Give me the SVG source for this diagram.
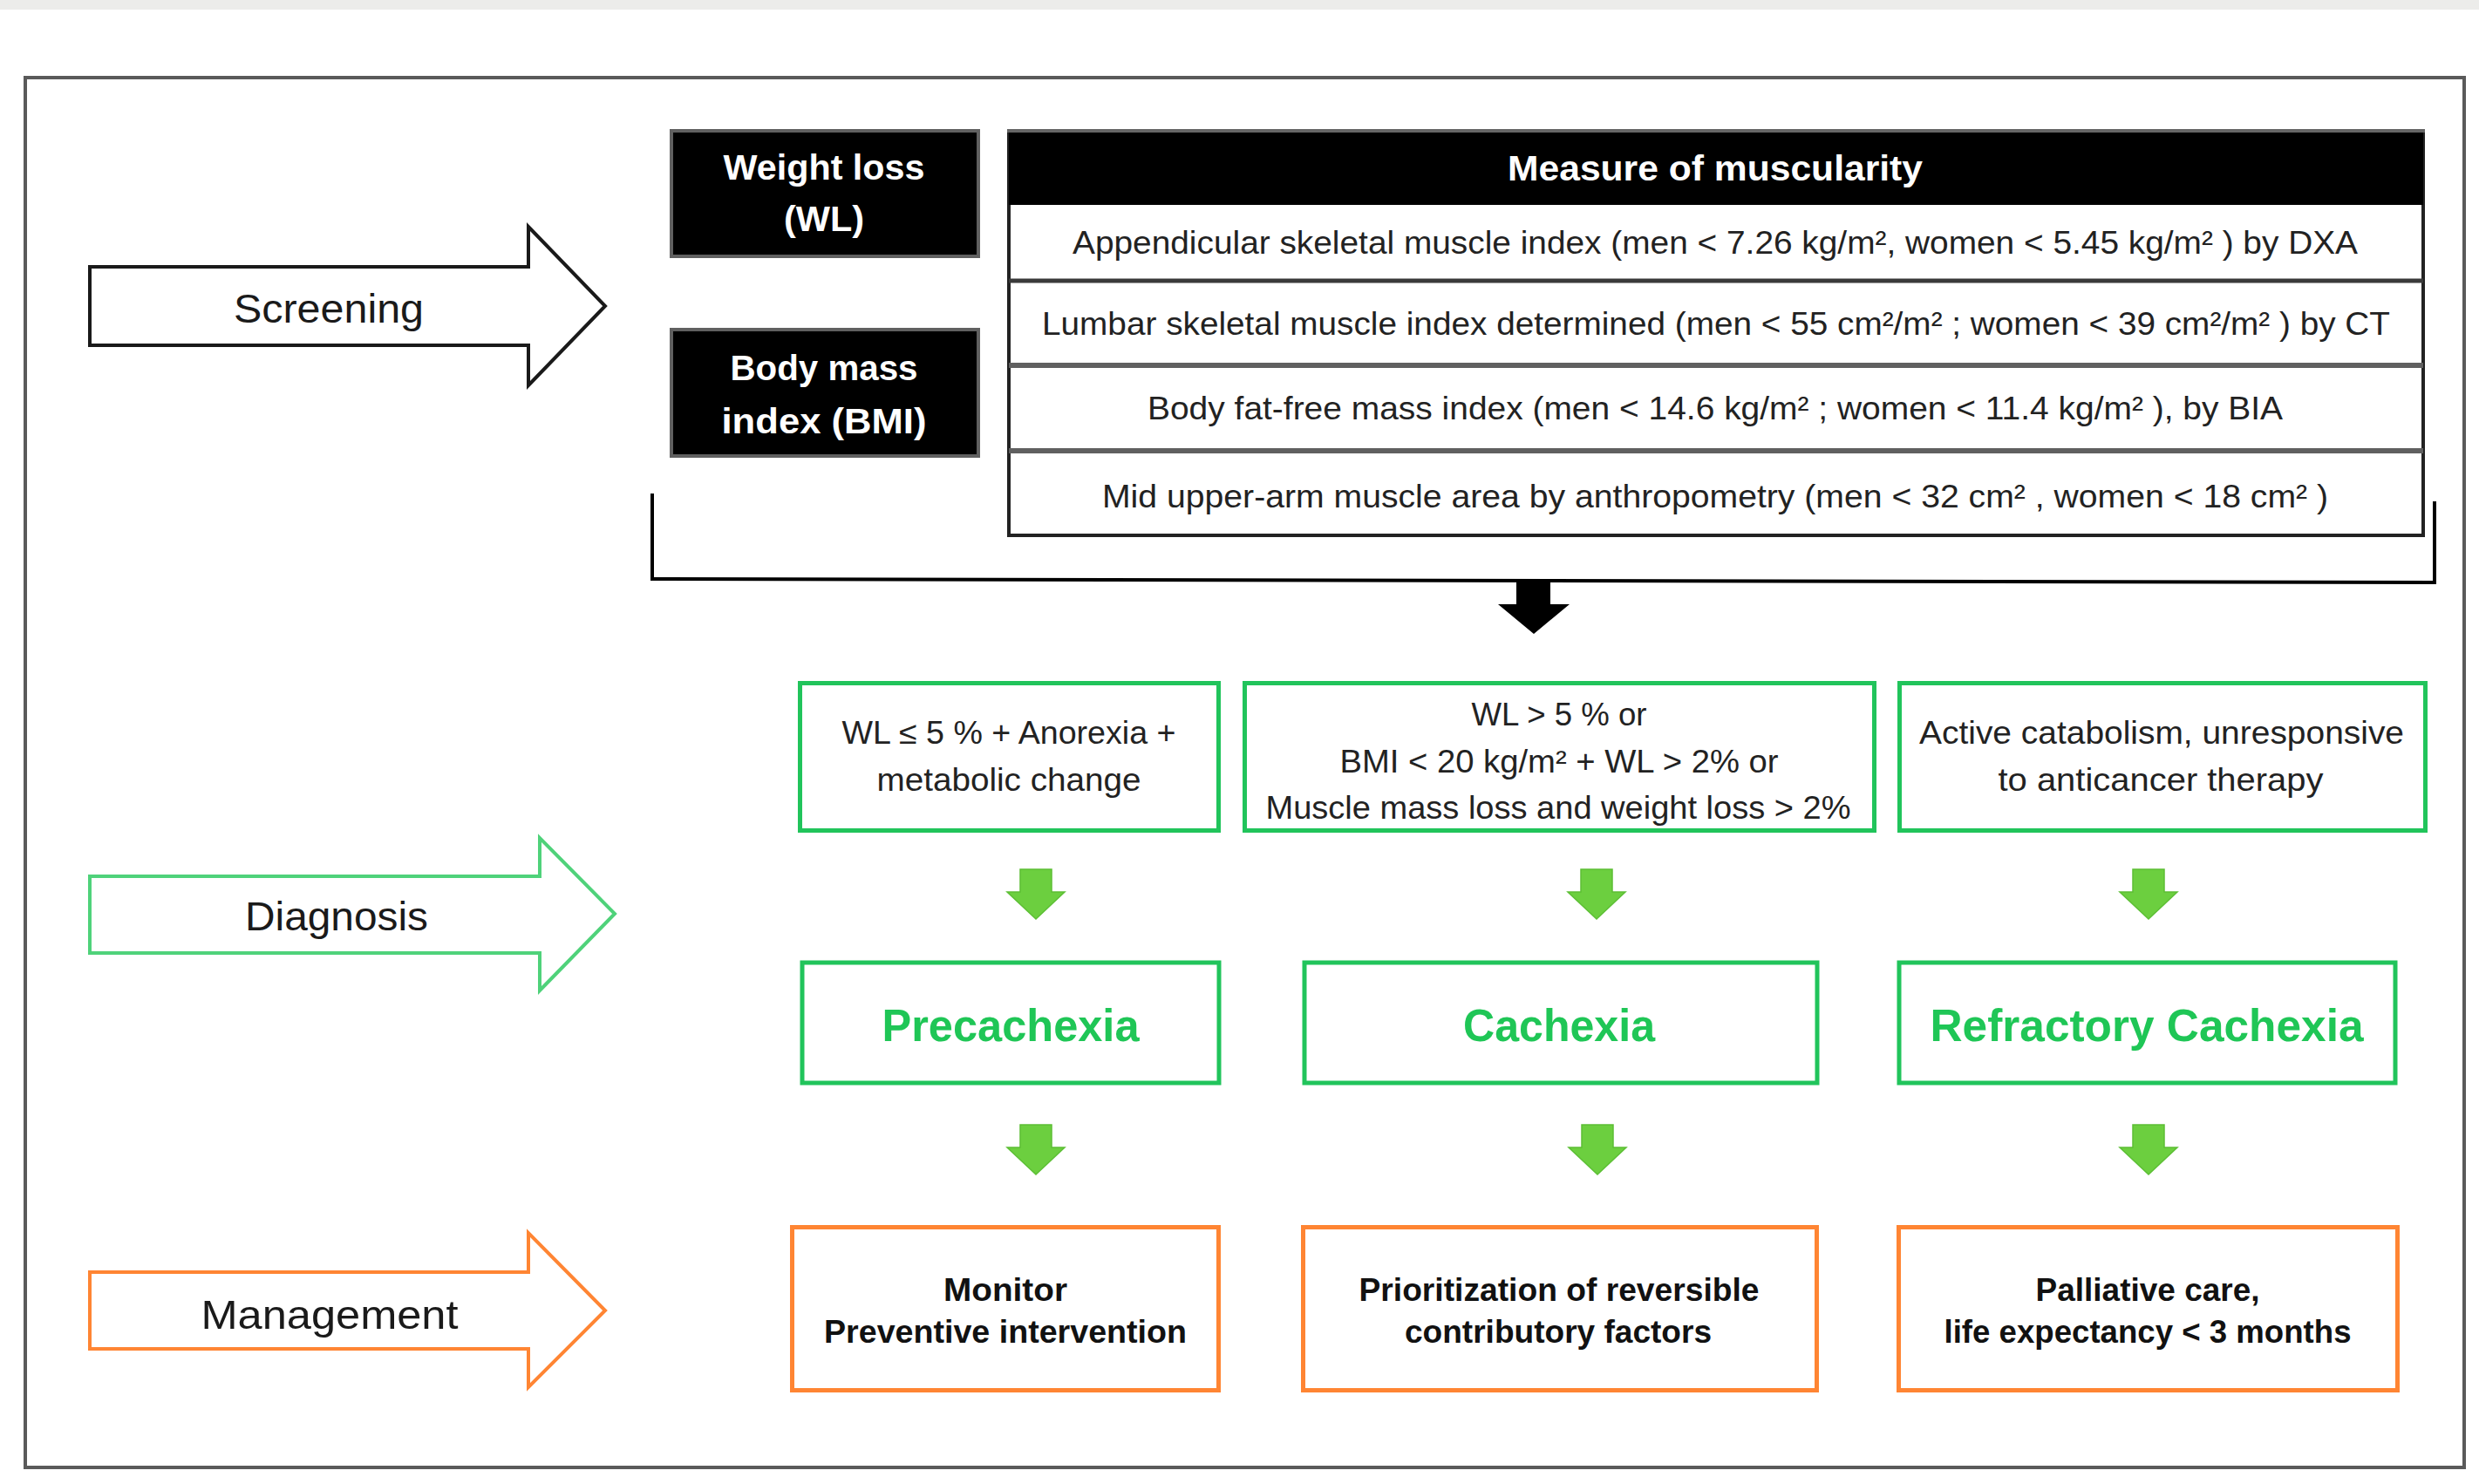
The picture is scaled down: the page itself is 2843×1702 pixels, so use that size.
<svg xmlns="http://www.w3.org/2000/svg" width="2843" height="1702" viewBox="0 0 2843 1702">
  <style>
    text { font-family: "Liberation Sans", Arial, sans-serif; text-anchor: middle; }
    .phase { font-size: 47px; fill: #1a1a1a; }
    .wb { font-size: 40px; font-weight: bold; fill: #ffffff; }
    .row { font-size: 37px; fill: #222222; }
    .crit { font-size: 36px; fill: #222222; }
    .stage { font-size: 52px; font-weight: bold; fill: #1fc656; }
    .mgmt { font-size: 36px; font-weight: bold; fill: #111111; }
    .gbox { fill: #ffffff; stroke: #21c45b; stroke-width: 5; }
    .obox { fill: #ffffff; stroke: #ff8533; stroke-width: 5; }
    .blk { fill: #000000; stroke: #606060; stroke-width: 4; }
    .garrow { fill: #6ccf3f; stroke: #5cbf34; stroke-width: 1.5; }
  </style>
  <defs>
    <path id="garr" d="M -18 0 L 18 0 L 18 26 L 33 26 L 0 57 L -33 26 L -18 26 Z"/>
  </defs>

  <rect x="0" y="0" width="2843" height="1702" fill="#ffffff"/>
  <rect x="0" y="0" width="2843" height="11" fill="#ececea"/>
  <rect id="frame" x="29" y="89" width="2797" height="1594" fill="#ffffff" stroke="#5a5a5a" stroke-width="4"/>

  <!-- Phase arrows -->
  <g id="screening">
    <polygon points="103,306 606,306 606,260 694,351 606,442 606,396 103,396" fill="#ffffff" stroke="#1a1a1a" stroke-width="4"/>
    <text class="phase" x="377" y="370" textLength="218" lengthAdjust="spacingAndGlyphs">Screening</text>
  </g>
  <g id="diagnosis">
    <polygon points="103,1005 619,1005 619,961 705,1048 619,1136 619,1093 103,1093" fill="#ffffff" stroke="#4fd27a" stroke-width="4"/>
    <text class="phase" x="386" y="1067" textLength="210" lengthAdjust="spacingAndGlyphs">Diagnosis</text>
  </g>
  <g id="management">
    <polygon points="103,1459 606,1459 606,1414 694,1503 606,1591 606,1547 103,1547" fill="#ffffff" stroke="#ff8533" stroke-width="4"/>
    <text class="phase" x="378" y="1524" textLength="295" lengthAdjust="spacingAndGlyphs">Management</text>
  </g>

  <!-- Screening criteria -->
  <g id="wl">
    <rect class="blk" x="770" y="150" width="352" height="144"/>
    <text class="wb" x="945" y="206" textLength="231" lengthAdjust="spacingAndGlyphs">Weight loss</text>
    <text class="wb" x="945" y="265" textLength="92" lengthAdjust="spacingAndGlyphs">(WL)</text>
  </g>
  <g id="bmi">
    <rect class="blk" x="770" y="378" width="352" height="145"/>
    <text class="wb" x="945" y="436" textLength="215" lengthAdjust="spacingAndGlyphs">Body mass</text>
    <text class="wb" x="945" y="497" textLength="235" lengthAdjust="spacingAndGlyphs">index (BMI)</text>
  </g>
  <g id="muscularity">
    <rect x="1157" y="151" width="1622" height="463" fill="#ffffff" stroke="#222222" stroke-width="4"/>
    <rect x="1157" y="151" width="1622" height="84" fill="#000000"/>
    <line x1="1155" y1="150" x2="2781" y2="150" stroke="#666666" stroke-width="4"/>
    <line x1="1157" y1="322" x2="2779" y2="322" stroke="#3a3a3a" stroke-width="5"/>
    <line x1="1157" y1="419" x2="2779" y2="419" stroke="#606060" stroke-width="6"/>
    <line x1="1157" y1="517" x2="2779" y2="517" stroke="#606060" stroke-width="6"/>
    <text class="wb" x="1967" y="207" textLength="476" lengthAdjust="spacingAndGlyphs">Measure of muscularity</text>
    <text class="row" x="1967" y="291" textLength="1474" lengthAdjust="spacingAndGlyphs">Appendicular skeletal muscle index (men &lt; 7.26 kg/m², women &lt; 5.45 kg/m² ) by DXA</text>
    <text class="row" x="1968" y="384" textLength="1546" lengthAdjust="spacingAndGlyphs">Lumbar skeletal muscle index determined (men &lt; 55 cm²/m² ; women &lt; 39 cm²/m² ) by CT</text>
    <text class="row" x="1967" y="481" textLength="1302" lengthAdjust="spacingAndGlyphs">Body fat-free mass index (men &lt; 14.6 kg/m² ; women &lt; 11.4 kg/m² ), by BIA</text>
    <text class="row" x="1967" y="582" textLength="1406" lengthAdjust="spacingAndGlyphs">Mid upper-arm muscle area by anthropometry (men &lt; 32 cm² , women &lt; 18 cm² )</text>
  </g>

  <!-- Diagnosis criteria -->
  <g id="crit1">
    <rect class="gbox" x="917.5" y="783.5" width="480" height="169"/>
    <text class="crit" x="1157" y="853" textLength="383" lengthAdjust="spacingAndGlyphs">WL ≤ 5 % + Anorexia +</text>
    <text class="crit" x="1157" y="907" textLength="303" lengthAdjust="spacingAndGlyphs">metabolic change</text>
  </g>
  <g id="crit2">
    <rect class="gbox" x="1427.5" y="783.5" width="722" height="169"/>
    <text class="crit" x="1788" y="832" textLength="201" lengthAdjust="spacingAndGlyphs">WL &gt; 5 % or</text>
    <text class="crit" x="1788" y="886" textLength="503" lengthAdjust="spacingAndGlyphs">BMI &lt; 20 kg/m² + WL &gt; 2% or</text>
    <text class="crit" x="1787" y="939" textLength="671" lengthAdjust="spacingAndGlyphs">Muscle mass loss and weight loss &gt; 2%</text>
  </g>
  <g id="crit3">
    <rect class="gbox" x="2178.5" y="783.5" width="603" height="169"/>
    <text class="crit" x="2479" y="853" textLength="556" lengthAdjust="spacingAndGlyphs">Active catabolism, unresponsive</text>
    <text class="crit" x="2478" y="907" textLength="373" lengthAdjust="spacingAndGlyphs">to anticancer therapy</text>
  </g>

  <!-- Stages -->
  <g id="precachexia">
    <rect class="gbox" x="920" y="1104" width="478" height="138" stroke-width="4.5"/>
    <text class="stage" x="1159" y="1194" textLength="295" lengthAdjust="spacingAndGlyphs">Precachexia</text>
  </g>
  <g id="cachexia">
    <rect class="gbox" x="1496" y="1104" width="588" height="138" stroke-width="4.5"/>
    <text class="stage" x="1788" y="1194" textLength="220" lengthAdjust="spacingAndGlyphs">Cachexia</text>
  </g>
  <g id="refractory">
    <rect class="gbox" x="2178" y="1104" width="569" height="138" stroke-width="4.5"/>
    <text class="stage" x="2462" y="1194" textLength="497" lengthAdjust="spacingAndGlyphs">Refractory Cachexia</text>
  </g>

  <!-- Management -->
  <g id="monitor">
    <rect class="obox" x="908.5" y="1407.5" width="489" height="187"/>
    <text class="mgmt" x="1153" y="1492" textLength="142" lengthAdjust="spacingAndGlyphs">Monitor</text>
    <text class="mgmt" x="1153" y="1540" textLength="416" lengthAdjust="spacingAndGlyphs">Preventive intervention</text>
  </g>
  <g id="prioritization">
    <rect class="obox" x="1494.5" y="1407.5" width="589" height="187"/>
    <text class="mgmt" x="1788" y="1492" textLength="459" lengthAdjust="spacingAndGlyphs">Prioritization of reversible</text>
    <text class="mgmt" x="1787" y="1540" textLength="352" lengthAdjust="spacingAndGlyphs">contributory factors</text>
  </g>
  <g id="palliative">
    <rect class="obox" x="2177.5" y="1407.5" width="572" height="187"/>
    <text class="mgmt" x="2463" y="1492" textLength="257" lengthAdjust="spacingAndGlyphs">Palliative care,</text>
    <text class="mgmt" x="2463" y="1540" textLength="467" lengthAdjust="spacingAndGlyphs">life expectancy &lt; 3 months</text>
  </g>

  <!-- Connectors -->
  <g id="connectors">
    <polyline points="748,566 748,664 2792,668 2792,575" fill="none" stroke="#000000" stroke-width="4"/>
    <polygon points="1739,666 1778,666 1778,693 1800,693 1759,727 1718,693 1739,693" fill="#000000"/>
    <use href="#garr" class="garrow" x="1188" y="997"/>
    <use href="#garr" class="garrow" x="1831" y="997"/>
    <use href="#garr" class="garrow" x="2464" y="997"/>
    <use href="#garr" class="garrow" x="1188" y="1290"/>
    <use href="#garr" class="garrow" x="1832" y="1290"/>
    <use href="#garr" class="garrow" x="2464" y="1290"/>
  </g>
</svg>
